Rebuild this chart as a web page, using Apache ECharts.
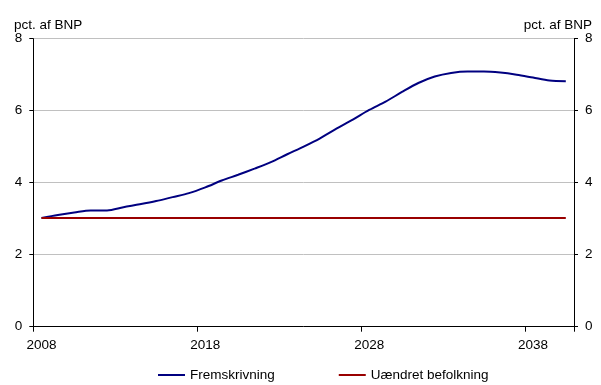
<!DOCTYPE html>
<html>
<head>
<meta charset="utf-8">
<script src="https://cdn.jsdelivr.net/npm/echarts@6/dist/echarts.min.js"></script>
<style>
  html, body { margin: 0; padding: 0; background: #fff; }
  #chart { width: 601px; height: 385px; }
</style>
</head>
<body>
<div id="chart"></div>
<script>
// Years on the horizontal axis
const years = [];
for (let y = 2008; y <= 2040; y++) years.push(String(y));

// Expenditure, pct. af BNP
const fremskrivning = [
  3.02, 3.10, 3.17, 3.23, 3.23, 3.32, 3.40, 3.49, 3.60, 3.71,
  3.87, 4.06, 4.22, 4.39, 4.57, 4.79, 5.00, 5.23, 5.50, 5.75,
  6.02, 6.25, 6.52, 6.77, 6.95, 7.05, 7.09, 7.09, 7.06, 7.00,
  6.92, 6.84, 6.82
];
const uaendret = [
  3.02, 3.02, 3.02, 3.02, 3.02, 3.02, 3.02, 3.02, 3.02, 3.02,
  3.02, 3.02, 3.02, 3.02, 3.02, 3.02, 3.02, 3.02, 3.02, 3.02,
  3.02, 3.02, 3.02, 3.02, 3.02, 3.02, 3.02, 3.02, 3.02, 3.02,
  3.02, 3.02, 3.02
];

const seriesNames = ['Fremskrivning', 'Uændret befolkning'];
const unitLabel = 'pct. af BNP';

const font = 'Liberation Sans, Arial, sans-serif';
const fs = 13.5;
const chart = echarts.init(document.getElementById('chart'), null, { renderer: 'canvas' });

const yAxisBase = (position) => ({
  type: 'value',
  position: position,
  min: 0, max: 8, interval: 2,
  axisLine: { show: true, lineStyle: { color: '#000', width: 1 } },
  axisTick: { show: true, length: 4, lineStyle: { color: '#000' } },
  axisLabel: { margin: 11, color: '#000', fontSize: fs, fontFamily: font },
  splitLine: { show: position === 'left', lineStyle: { color: '#c0c0c0', width: 1 } }
});

chart.setOption({
  animation: false,
  backgroundColor: '#fff',
  title: [
    { text: unitLabel, left: 9, top: 13,
      textStyle: { fontSize: fs, fontWeight: 'normal', color: '#000', fontFamily: font } },
    { text: unitLabel, right: 4, top: 13,
      textStyle: { fontSize: fs, fontWeight: 'normal', color: '#000', fontFamily: font } }
  ],
  grid: { left: 33.3, right: 27, top: 38.7, bottom: 58.3, containLabel: false },
  legend: {
    left: 153, top: 363,
    icon: 'rect',
    itemWidth: 27, itemHeight: 2, itemGap: 64,
    textStyle: { fontSize: fs, color: '#000', fontFamily: font },
    data: seriesNames
  },
  xAxis: {
    type: 'category',
    data: years,
    boundaryGap: true,
    axisLine: { lineStyle: { color: '#000', width: 1 } },
    axisTick: { show: true, interval: 9, length: 5, lineStyle: { color: '#000' } },
    axisLabel: { interval: 9, margin: 12, color: '#000', fontSize: fs, fontFamily: font },
    splitLine: { show: false }
  },
  yAxis: [yAxisBase('left'), yAxisBase('right')],
  series: [
    {
      name: seriesNames[0], type: 'line', data: fremskrivning,
      symbol: 'none', smooth: 0.3,
      lineStyle: { color: '#000080', width: 2 },
      itemStyle: { color: '#000080' }
    },
    {
      name: seriesNames[1], type: 'line', data: uaendret,
      symbol: 'none',
      lineStyle: { color: '#990000', width: 2 },
      itemStyle: { color: '#990000' }
    }
  ]
});
</script>
</body>
</html>
